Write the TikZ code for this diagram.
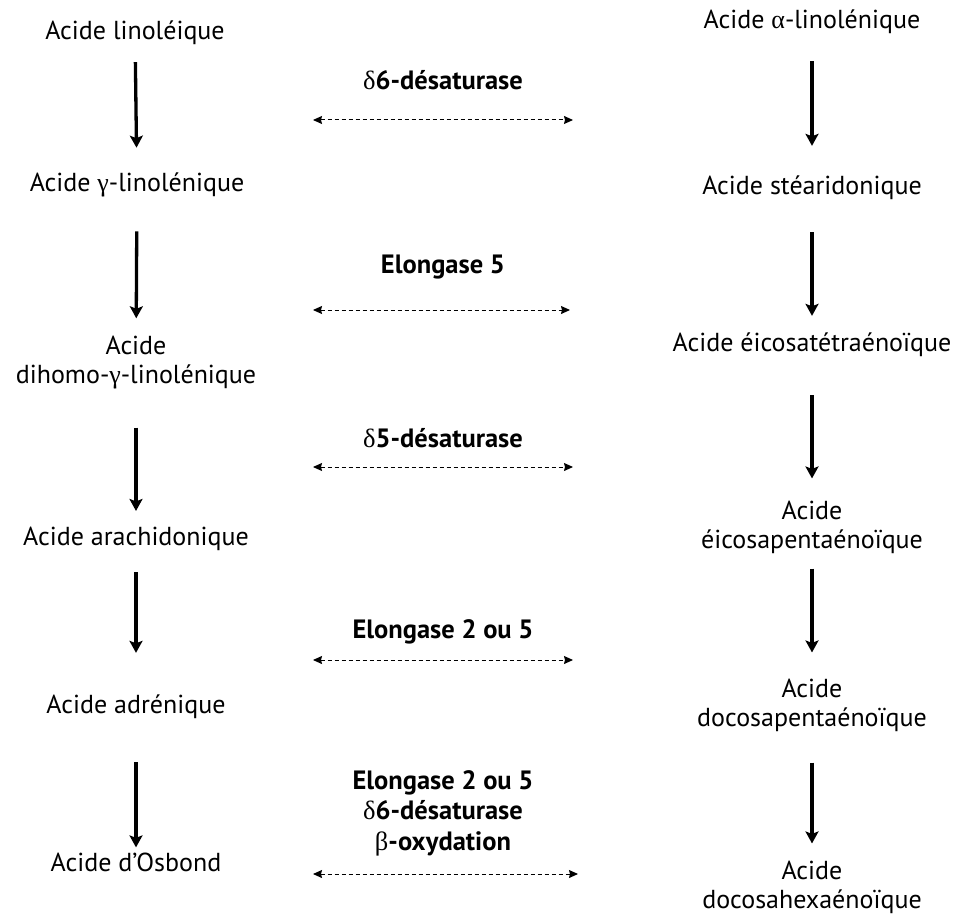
\documentclass[tikz,border=0pt]{standalone}
\usepackage{fontspec}
\setmainfont{PT Sans}
\newfontfamily\grec{Liberation Serif}
\newcommand{\gr}[1]{{\grec\mdseries #1}}
\usetikzlibrary{arrows.meta}

\begin{document}
\begin{tikzpicture}[x=1pt, y=-1pt, font=\fontsize{26}{29}\selectfont,
  acide/.style={align=center, inner sep=0pt},
  enzyme/.style={align=center, inner sep=0pt, font=\fontsize{26.5}{30.5}\selectfont\bfseries},
  voie/.style={line width=3.3pt, -{Stealth[length=12pt,width=13pt,inset=2.5pt]}},
  echange/.style={line width=1pt, dash pattern=on 4pt off 3pt,
    {Stealth[length=9pt,width=8pt,inset=1pt]}-{Stealth[length=9pt,width=8pt,inset=1pt]}}]
  \useasboundingbox (0,0) rectangle (953,920);

  \node[acide] (L1) at (135,33)  {Acide linoléique};
  \node[acide] (L2) at (137,185) {Acide \gr{γ}-linolénique};
  \node[acide] (L3) at (136,363) {Acide\\dihomo-\gr{γ}-linolénique};
  \node[acide] (L4) at (136,539) {Acide arachidonique};
  \node[acide] (L5) at (136,707) {Acide adrénique};
  \node[acide] (L6) at (136,862) {Acide d'Osbond};

  \node[acide] (R1) at (812,22)  {Acide \gr{α}-linolénique};
  \node[acide] (R2) at (812,188) {Acide stéaridonique};
  \node[acide] (R3) at (812,345) {Acide éicosatétraénoïque};
  \node[acide] (R4) at (812,527) {Acide\\éicosapentaénoïque};
  \node[acide] (R5) at (812,705) {Acide\\docosapentaénoïque};
  \node[acide] (R6) at (812,887) {Acide\\docosahexaénoïque};

  \node[enzyme] (E1) at (443,80)  {\gr{δ}6-désaturase};
  \node[enzyme] (E2) at (443,267) {Elongase 5};
  \node[enzyme] (E3) at (443,438) {\gr{δ}5-désaturase};
  \node[enzyme] (E4) at (443,632) {Elongase 2 ou 5};
  \node[enzyme] (E5) at (443,813) {Elongase 2 ou 5\\\gr{δ}6-désaturase\\\gr{β}-oxydation};

  \draw[voie, shorten <=17pt, shorten >=25pt] (L1) -- (L2);
  \draw[voie, shorten <=34pt, shorten >=18pt] (L2) -- (L3);
  \draw[voie, shorten <=38pt, shorten >=16pt] (L3) -- (L4);
  \draw[voie, shorten <=21pt, shorten >=42pt] (L4) -- (L5);
  \draw[voie, shorten <=43pt, shorten >=5pt]  (L5) -- (L6);

  \draw[voie, shorten <=27pt, shorten >=30pt] (R1) -- (R2);
  \draw[voie, shorten <=32pt, shorten >=17pt] (R2) -- (R3);
  \draw[voie, shorten <=38pt, shorten >=22pt] (R3) -- (R4);
  \draw[voie, shorten <=15pt, shorten >=26pt] (R4) -- (R5);
  \draw[voie, shorten <=31pt, shorten >=17pt] (R5) -- (R6);

  \coordinate (e1o) at (313,120); \coordinate (e1e) at (573,120);
  \coordinate (e2o) at (313,310); \coordinate (e2e) at (570,310);
  \coordinate (e3o) at (313,467); \coordinate (e3e) at (573,467);
  \coordinate (e4o) at (313,660); \coordinate (e4e) at (573,660);
  \coordinate (e5o) at (313,874); \coordinate (e5e) at (578,874);
  \draw[echange] (e1o) -- (e1e);
  \draw[echange] (e2o) -- (e2e);
  \draw[echange] (e3o) -- (e3e);
  \draw[echange] (e4o) -- (e4e);
  \draw[echange] (e5o) -- (e5e);
\end{tikzpicture}
\end{document}
